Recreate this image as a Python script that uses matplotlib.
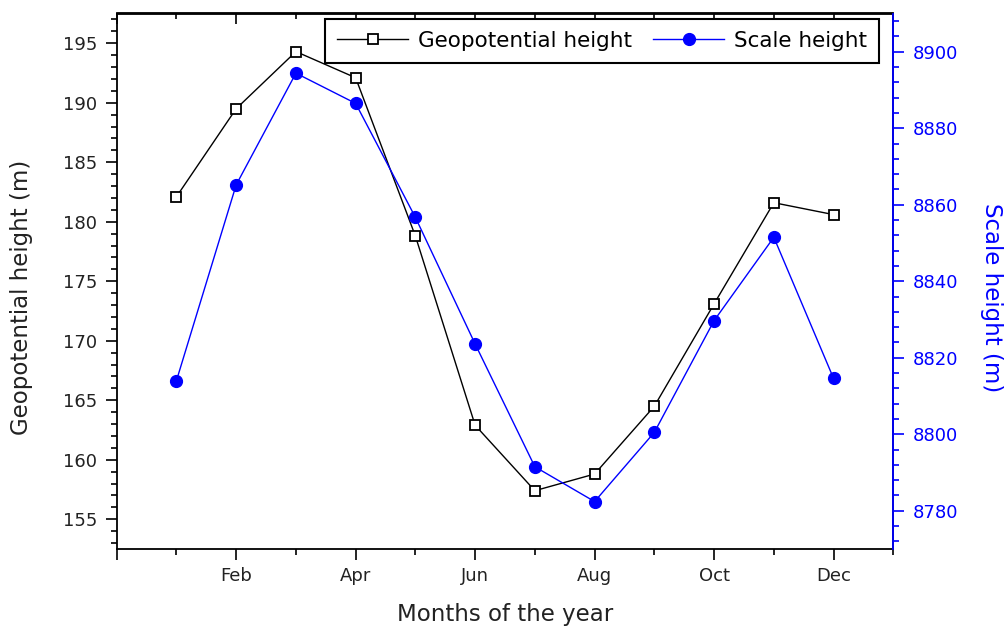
import matplotlib
matplotlib.use("Agg")
import matplotlib.pyplot as plt
from matplotlib.ticker import MultipleLocator, FixedLocator

# Monthly means
months = list(range(1, 13))
month_ticks = [0, 2, 4, 6, 8, 10, 12]
month_minor_ticks = [1, 3, 5, 7, 9, 11, 13]
month_labels = ["", "Feb", "Apr", "Jun", "Aug", "Oct", "Dec"]

geopotential_height = [182.1, 189.5, 194.3, 192.1, 178.8, 162.9,
                       157.4, 158.8, 164.5, 173.1, 181.6, 180.6]
scale_height = [8814.0, 8865.2, 8894.4, 8886.5, 8856.7, 8823.6,
                8791.5, 8782.4, 8800.5, 8829.7, 8851.5, 8814.6]

plt.rcParams["font.family"] = ["DejaVu Sans"]

W, H = 1005, 628
fig = plt.figure(figsize=(W / 100, H / 100), dpi=100)
left, right, top, bottom = 116.7, 893.3, 13.5, 549.0
ax = fig.add_axes([left / W, 1 - bottom / H, (right - left) / W, (bottom - top) / H])

TXT = "#222222"
BLUE = "#0000ff"
TICK_FS = 13
LABEL_FS = 16.5

# Geopotential height (left axis)
l1, = ax.plot(months, geopotential_height, color="black", lw=1.0,
              marker="s", markersize=7.5, markerfacecolor="white",
              markeredgecolor="black", markeredgewidth=1.3,
              label="Geopotential height")
ax.set_xlim(0, 13)
ax.set_ylim(152.5, 197.5)

ax.xaxis.set_major_locator(FixedLocator(month_ticks))
ax.xaxis.set_minor_locator(FixedLocator(month_minor_ticks))
ax.set_xticklabels(month_labels)
ax.yaxis.set_major_locator(MultipleLocator(5))
ax.yaxis.set_minor_locator(MultipleLocator(1))

ax.tick_params(axis="x", which="both", direction="out", bottom=True, top=False,
               labelsize=TICK_FS, labelcolor=TXT, width=1.2, pad=5)
ax.tick_params(axis="y", which="both", direction="out", left=True, right=False,
               labelsize=TICK_FS, labelcolor=TXT, width=1.2, pad=6)
ax.tick_params(which="major", length=8)
ax.tick_params(which="minor", length=4.5)

for s in ax.spines.values():
    s.set_linewidth(1.3)
    s.set_color("black")

# inward ticks along the top edge
ax_top = ax.secondary_xaxis("top")
ax_top.xaxis.set_major_locator(FixedLocator(month_ticks))
ax_top.xaxis.set_minor_locator(FixedLocator(month_minor_ticks))
ax_top.tick_params(axis="x", which="both", direction="in", labeltop=False, width=1.2)
ax_top.tick_params(which="major", length=8)
ax_top.tick_params(which="minor", length=4.5)
ax_top.spines["top"].set_linewidth(1.3)

ax.set_xlabel("Months of the year", fontsize=LABEL_FS, color=TXT, va="baseline")
ax.xaxis.set_label_coords(0.5, -0.1345)
ax.set_ylabel("Geopotential height (m)", fontsize=LABEL_FS, color=TXT,
              va="center", ha="center", rotation_mode="anchor")
ax.yaxis.set_label_coords(-0.122, 0.47)

# Scale height (right axis)
ax2 = ax.twinx()
l2, = ax2.plot(months, scale_height, color=BLUE, lw=1.0, marker="o",
               markersize=8.5, markerfacecolor=BLUE, markeredgecolor=BLUE,
               label="Scale height")
ax2.set_ylim(8770, 8910)
ax2.yaxis.set_major_locator(MultipleLocator(20))
ax2.yaxis.set_minor_locator(MultipleLocator(4))
ax2.tick_params(axis="y", which="both", direction="out", colors=BLUE,
                labelsize=TICK_FS, width=1.2, pad=6)
ax2.tick_params(which="major", length=8)
ax2.tick_params(which="minor", length=4.5)
for name in ("left", "top", "bottom"):
    ax2.spines[name].set_visible(False)
ax2.spines["right"].set_color(BLUE)
ax2.spines["right"].set_linewidth(1.3)
ax2.set_ylabel("Scale height (m)", fontsize=LABEL_FS, color=BLUE, rotation=270,
               va="center", ha="center", rotation_mode="anchor")
ax2.yaxis.set_label_coords(1.1265, 0.47)

leg = ax2.legend(handles=[l1, l2], ncol=2, loc="upper right",
                 bbox_to_anchor=(879 / W, 1 - 19 / H),
                 bbox_transform=fig.transFigure, borderaxespad=0,
                 fontsize=15.5, frameon=True, fancybox=False, framealpha=1,
                 edgecolor="black", handlelength=3.3, handletextpad=0.45,
                 columnspacing=1.0, borderpad=0.55)
leg.get_frame().set_linewidth(1.5)
for t in leg.get_texts():
    t.set_color("black")

fig.savefig("out.png", dpi=100)
